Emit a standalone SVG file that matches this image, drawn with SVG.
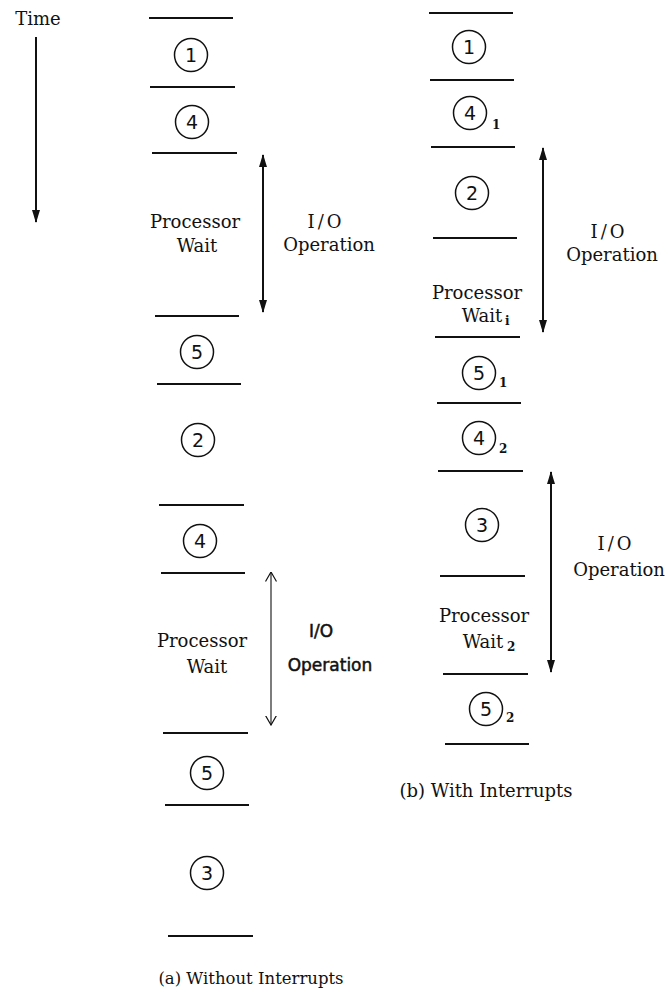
<svg xmlns="http://www.w3.org/2000/svg" width="669" height="999" viewBox="0 0 669 999">
<defs>
<style>
.t{font-family:"DejaVu Serif","Liberation Serif",serif;font-size:18px;fill:#111;text-anchor:middle}
.io{letter-spacing:3px}
.d{font-family:"DejaVu Sans","Liberation Sans",sans-serif;font-size:19px;fill:#111;text-anchor:middle}
.s{font-family:"DejaVu Serif","Liberation Serif",serif;font-size:12px;font-weight:bold;fill:#111}
.h{font-family:"DejaVu Sans","Liberation Sans",sans-serif;font-size:17px;fill:#111;stroke:#111;stroke-width:0.5;text-anchor:middle}
.ln{stroke:#111;stroke-width:2;fill:none}
.c{stroke:#111;stroke-width:1.5;fill:none}
.ar{stroke:#111;stroke-width:2;fill:none;marker-start:url(#ah);marker-end:url(#ah)}
.ar2{stroke:#111;stroke-width:1.1;fill:none;marker-start:url(#av);marker-end:url(#av)}
</style>
<marker id="ah" viewBox="0 0 13 8" refX="12" refY="4" markerWidth="13" markerHeight="8" markerUnits="userSpaceOnUse" orient="auto-start-reverse"><path d="M0,0 L13,4 L0,8 z" fill="#111"/></marker>
<marker id="av" viewBox="0 0 10 12" refX="9.5" refY="6" markerWidth="10" markerHeight="12" markerUnits="userSpaceOnUse" orient="auto-start-reverse"><path d="M0,0.5 L9.5,6 L0,11.5" fill="none" stroke="#111" stroke-width="1.2"/></marker>
</defs>
<rect width="669" height="999" fill="#fff"/>

<g id="time">
<text class="t" x="38" y="25">Time</text>
<line class="ln" x1="36" y1="37" x2="36" y2="222" marker-end="url(#ah)"/>
</g>

<g id="col-a">
<g id="a-lines">
<line class="ln" x1="149" y1="18" x2="233" y2="18"/>
<line class="ln" x1="150" y1="87" x2="235" y2="87"/>
<line class="ln" x1="152" y1="153" x2="237" y2="153"/>
<line class="ln" x1="155" y1="316" x2="239" y2="316"/>
<line class="ln" x1="157" y1="384" x2="241" y2="384"/>
<line class="ln" x1="159" y1="505" x2="244" y2="505"/>
<line class="ln" x1="161" y1="573" x2="245" y2="573"/>
<line class="ln" x1="163" y1="733" x2="248" y2="733"/>
<line class="ln" x1="165" y1="805" x2="249" y2="805"/>
<line class="ln" x1="168" y1="936" x2="253" y2="936"/>
</g>
<g id="a1"><circle class="c" cx="191" cy="55" r="16.5"/><text class="d" x="191" y="62">1</text></g>
<g id="a4"><circle class="c" cx="192" cy="122" r="16.5"/><text class="d" x="192" y="129">4</text></g>
<g id="a-wait1"><text class="t" x="195" y="228">Processor</text><text class="t" x="197" y="252">Wait</text></g>
<g id="a5"><circle class="c" cx="197" cy="352" r="16.5"/><text class="d" x="197" y="359">5</text></g>
<g id="a2"><circle class="c" cx="198" cy="440" r="16.5"/><text class="d" x="198" y="447">2</text></g>
<g id="a4b"><circle class="c" cx="200" cy="541" r="16.5"/><text class="d" x="200" y="548">4</text></g>
<g id="a-wait2"><text class="t" x="202" y="647">Processor</text><text class="t" x="207" y="673">Wait</text></g>
<g id="a5b"><circle class="c" cx="207" cy="773" r="16.5"/><text class="d" x="207" y="780">5</text></g>
<g id="a3"><circle class="c" cx="207" cy="873" r="16.5"/><text class="d" x="207" y="880">3</text></g>
<g id="a-io1"><text class="t io" x="326" y="228">I/O</text><text class="t" x="329" y="251">Operation</text></g>
<g id="a-io2"><text class="h" x="321" y="637">I/O</text><text class="h" x="330" y="671">Operation</text></g>
<text class="t" x="251" y="984" style="font-size:16.5px">(a) Without Interrupts</text>
</g>

<g id="col-b">
<g id="b-lines">
<line class="ln" x1="429" y1="13" x2="513" y2="13"/>
<line class="ln" x1="430" y1="80" x2="514" y2="80"/>
<line class="ln" x1="431" y1="147" x2="515" y2="147"/>
<line class="ln" x1="433" y1="238" x2="517" y2="238"/>
<line class="ln" x1="435" y1="337" x2="520" y2="337"/>
<line class="ln" x1="437" y1="403" x2="521" y2="403"/>
<line class="ln" x1="438" y1="471" x2="523" y2="471"/>
<line class="ln" x1="440" y1="576" x2="525" y2="576"/>
<line class="ln" x1="443" y1="674" x2="528" y2="674"/>
<line class="ln" x1="445" y1="744" x2="529" y2="744"/>
</g>
<g id="b1"><circle class="c" cx="469" cy="47" r="16.5"/><text class="d" x="469" y="54">1</text></g>
<g id="b41"><circle class="c" cx="470" cy="113" r="16.5"/><text class="d" x="470" y="120">4</text><text class="s" x="492" y="129">1</text></g>
<g id="b2"><circle class="c" cx="472" cy="193" r="16.5"/><text class="d" x="472" y="200">2</text></g>
<g id="b-wait1"><text class="t" x="477" y="299">Processor</text><text class="t" x="482" y="322">Wait</text><text class="s" x="505" y="325">i</text></g>
<g id="b51"><circle class="c" cx="479" cy="373" r="16.5"/><text class="d" x="479" y="380">5</text><text class="s" x="499" y="387">1</text></g>
<g id="b42"><circle class="c" cx="479" cy="438" r="16.5"/><text class="d" x="479" y="445">4</text><text class="s" x="499" y="453">2</text></g>
<g id="b3"><circle class="c" cx="482" cy="525" r="16.5"/><text class="d" x="482" y="532">3</text></g>
<g id="b-wait2"><text class="t" x="484" y="622">Processor</text><text class="t" x="483" y="648">Wait</text><text class="s" x="507" y="651">2</text></g>
<g id="b52"><circle class="c" cx="486" cy="709" r="16.5"/><text class="d" x="486" y="716">5</text><text class="s" x="506" y="722">2</text></g>
<g id="b-io1"><text class="t io" x="609" y="238">I/O</text><text class="t" x="612" y="261">Operation</text></g>
<g id="b-io2"><text class="t io" x="616" y="550">I/O</text><text class="t" x="619" y="576">Operation</text></g>
<text class="t" x="486" y="797">(b) With Interrupts</text>
</g>

<g id="connectors">
<line class="ar" x1="263" y1="155" x2="263" y2="312"/>
<line class="ar2" x1="271" y1="572" x2="271" y2="725"/>
<line class="ar" x1="543" y1="148" x2="543" y2="332"/>
<line class="ar" x1="551" y1="472" x2="551" y2="672"/>
</g>
</svg>
